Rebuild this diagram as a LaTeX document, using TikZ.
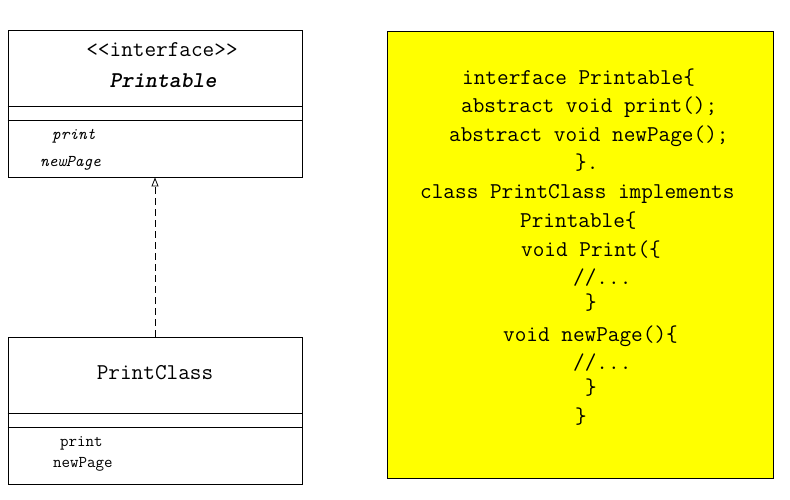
\documentclass[tikz,border=0pt]{standalone}
\usetikzlibrary{arrows.meta,calc}
\definecolor{codeyellow}{RGB}{255,255,0}
\begin{document}
\begin{tikzpicture}[x=1pt,y=-1pt,
  umlbox/.style={draw=black,line width=0.9pt,rectangle,inner sep=0pt,minimum width=294pt,minimum height=147pt},
  big/.style={font=\ttfamily\fontsize{22.6}{26}\selectfont,inner sep=0pt},
  small/.style={font=\ttfamily\itshape\fontsize{16.5}{20}\selectfont,inner sep=0pt},
  smallup/.style={font=\ttfamily\fontsize{16.5}{20}\selectfont,inner sep=0pt},
  code/.style={font=\ttfamily\fontsize{22.6}{26}\selectfont,inner sep=0pt,anchor=base west},
  divider/.style={draw=black,line width=0.9pt}]
\useasboundingbox (0,0) rectangle (790,500);
\fill[white] (0,0) rectangle (790,500);
% interface box
\node[umlbox] (iface) at (155,103.5) {};
\draw[divider] ($(iface.north west)+(0,77)$) -- ($(iface.north east)+(0,77)$);
\draw[divider] ($(iface.north west)+(0,91)$) -- ($(iface.north east)+(0,91)$);
\node[big,anchor=base] (stereo) at (162,57) {<<interface>>};
\node[big,anchor=base,font=\ttfamily\bfseries\itshape\fontsize{22.6}{26}\selectfont] (iname) at (163,88) {Printable};
\node[small,anchor=base west] (iprint) at (52,140) {print};
\node[small,anchor=base west] (inew) at (40,167) {newPage};
% class box
\node[umlbox] (cls) at (155,410.5) {};
\draw[divider] ($(cls.north west)+(0,77)$) -- ($(cls.north east)+(0,77)$);
\draw[divider] ($(cls.north west)+(0,91)$) -- ($(cls.north east)+(0,91)$);
\node[big,anchor=base] (cname) at (155,379) {PrintClass};
\node[smallup,anchor=base west] (cprint) at (60,446) {print};
\node[smallup,anchor=base west] (cnew) at (53,467) {newPage};
% realization
\draw[line width=0.8pt,dash pattern=on 7pt off 4pt,-{Triangle[open,length=9pt,width=7pt,line width=0.8pt]}] (cls.north) -- (iface.south);
% code box
\node[draw=black,line width=0.9pt,fill=codeyellow,rectangle,inner sep=0pt,minimum width=386pt,minimum height=447pt] (codebox) at (580,254.5) {};
\node[code] (l1) at (462,85) {interface Printable\{};
\node[code] (l2) at (461,113) {abstract void print();};
\node[code] (l3) at (449,142) {abstract void newPage();};
\node[code] (l4) at (575,169) {\}.};
\node[code] (l5) at (420,198) {class PrintClass implements};
\node[code] (l6) at (520,227) {Printable\{};
\node[code] (l7) at (521,256) {void Print(\{};
\node[code] (l8) at (573,284) {//...};
\node[code] (l9) at (585,309) {\}};
\node[code] (l10) at (503,341) {void newPage()\{};
\node[code] (l11) at (573,369) {//...};
\node[code] (l12) at (585,394) {\}};
\node[code] (l13) at (575,423) {\}};
\end{tikzpicture}
\end{document}
